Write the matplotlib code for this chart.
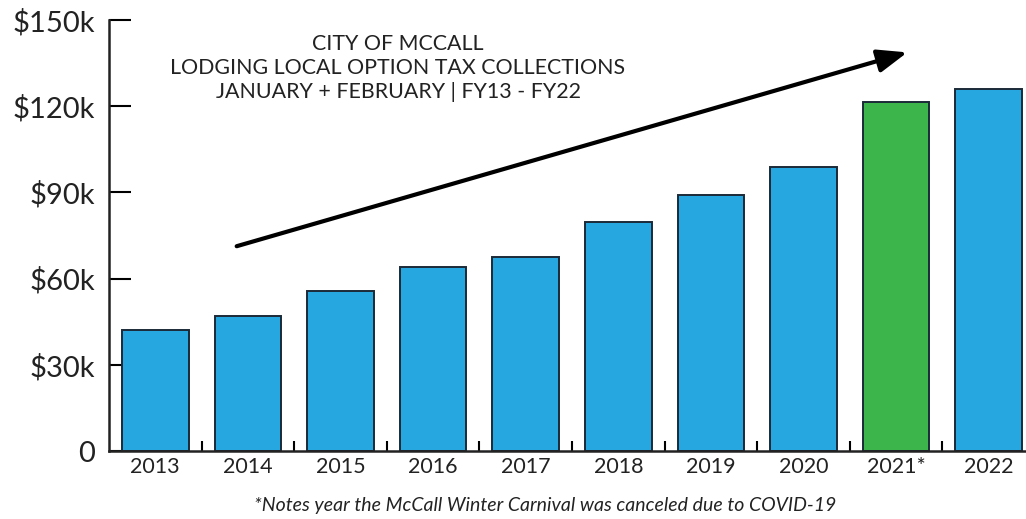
import numpy as np
import matplotlib.pyplot as plt

plt.rcParams['font.family'] = ['Lato', 'DejaVu Sans']

# data
years = ['2013', '2014', '2015', '2016', '2017', '2018', '2019', '2020', '2021*', '2022']
collections = [42100, 47000, 55700, 64000, 67500, 79700, 89100, 98800, 121500, 126000]
bar_colors = ['#27a7e0'] * 8 + ['#3cb54a'] + ['#27a7e0']
ytick_vals = [0, 30000, 60000, 90000, 120000, 150000]
ytick_labels = ['0', '$30k', '$60k', '$90k', '$120k', '$150k']

fig = plt.figure(figsize=(10.26, 5.19), dpi=100)
ax = fig.add_axes([109/1026, 1-451/519, 926/1026, 431/519])

x = np.arange(len(years))
ax.bar(x, collections, width=0.72, color=bar_colors, edgecolor='#1b2a38', linewidth=1.4, zorder=2)

ax.set_xlim(-0.5, len(years)-0.5)
ax.set_ylim(0, 150000)
ax.set_yticks(ytick_vals)
ax.set_yticklabels(ytick_labels, fontsize=21, color='#222222')
ax.set_xticks(x)
ax.set_xticklabels(years, fontsize=15.5, color='#222222')
ax.set_xticks(x[:-1] + 0.5, minor=True)

ax.tick_params(axis='y', direction='in', length=16, width=1.5, pad=10)
ax.tick_params(axis='x', which='major', length=0, pad=4)
ax.tick_params(axis='x', which='minor', direction='in', length=7, width=1.5)

for s in ['top', 'right']:
    ax.spines[s].set_visible(False)
for s in ['left', 'bottom']:
    ax.spines[s].set_linewidth(1.8)
    ax.spines[s].set_color('#222222')

# trend arrow
ax.annotate('', xy=(8.15, 139000), xytext=(0.85, 71000),
            arrowprops=dict(arrowstyle='-|>,head_length=1.8,head_width=0.7', color='black', lw=3))

fig.text(398/1026, 1-68/519,
         'CITY OF MCCALL\nLODGING LOCAL OPTION TAX COLLECTIONS\nJANUARY + FEBRUARY | FY13 - FY22',
         ha='center', va='center', fontsize=15.4, linespacing=1.27, color='#222222')

fig.text(545/1026, 1-505/519, '*Notes year the McCall Winter Carnival was canceled due to COVID-19',
         ha='center', va='center', fontsize=14, style='italic', color='#222222')

fig.savefig('out.png', dpi=100)
